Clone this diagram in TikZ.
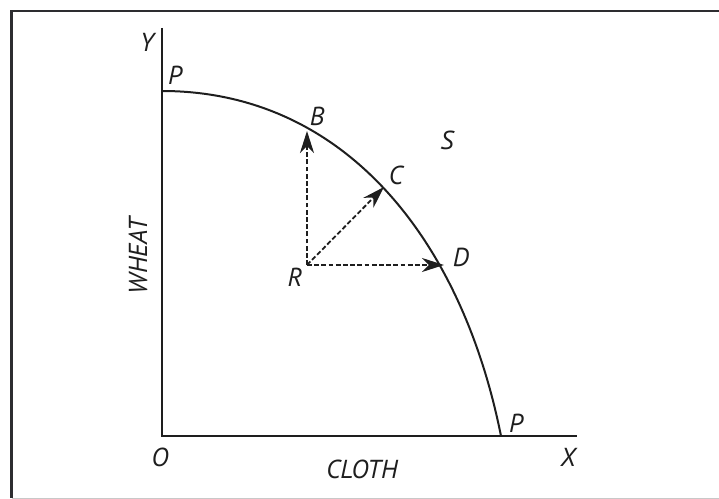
\documentclass[tikz,border=0pt]{standalone}
\usepackage{fontspec}
\setmainfont{PT Sans}
\usetikzlibrary{arrows.meta,positioning}
\definecolor{framedark}{RGB}{45,45,48}
\definecolor{framelight}{RGB}{200,200,200}
\definecolor{inkblack}{RGB}{30,30,30}
\tikzset{
  axis/.style={line width=1.2pt, draw=inkblack},
  ppf/.style={line width=1pt, draw=inkblack},
  move/.style={-{Stealth[length=11pt,width=7pt,inset=3.5pt]}, line width=0.9pt,
               draw=inkblack, dash pattern=on 2.4pt off 1.2pt},
  lbl/.style={font=\fontsize{13}{15}\selectfont\itshape, text=inkblack, inner sep=0pt},
}

\begin{document}
\begin{tikzpicture}[x=0.5pt,y=0.5pt]
    \useasboundingbox (-162,-63) rectangle (557,436);
    % frame
    \draw[framelight, line width=0.5pt] (-150,-62) -- (557,-62);
    \draw[framedark, line width=1.4pt] (557,425) -- (-150.7,425) -- (-150.7,-62);
    % axes
    \coordinate (O) at (0,0);
    \coordinate (Ytop) at (0,408);
    \coordinate (Xend) at (415,0);
    \coordinate (Ptop) at (0,345);
    \coordinate (Pbot) at (339,0);
    \draw[axis] (Ytop) -- (O) -- (Xend);
    % production possibility curve
    \draw[ppf] (Ptop) .. controls (180,345) and (299,200) .. (Pbot);
    % movements from R
    \coordinate (R) at (145,171);
    \coordinate (B) at (145,305);
    \coordinate (C) at (222,249);
    \coordinate (D) at (282,171);
    \draw[move] (R) -- (B);
    \draw[move] (R) -- (C);
    \draw[move] (R) -- (D);
    % labels
    \node[lbl] (labY) at (-15,394) {Y};
    \node[lbl] (labPt) at (13,361) {P};
    \node[lbl] (labB) at (155,320) {B};
    \node[lbl] (labC) at (234,261) {C};
    \node[lbl] (labS) at (285,296) {S};
    \node[lbl] (labD) at (299,179) {D};
    \node[lbl] (labR) at (133,159) {R};
    \node[lbl] (labPb) at (354,13) {P};
    \node[lbl] (labO) at (-2,-21) {O};
    \node[lbl] (labX) at (406,-21) {X};
    \node[lbl] (labcloth) at (200,-33) {CLOTH};
    \node[lbl, rotate=90] (labwheat) at (-24,180) {WHEAT};
  \end{tikzpicture}
\end{document}
